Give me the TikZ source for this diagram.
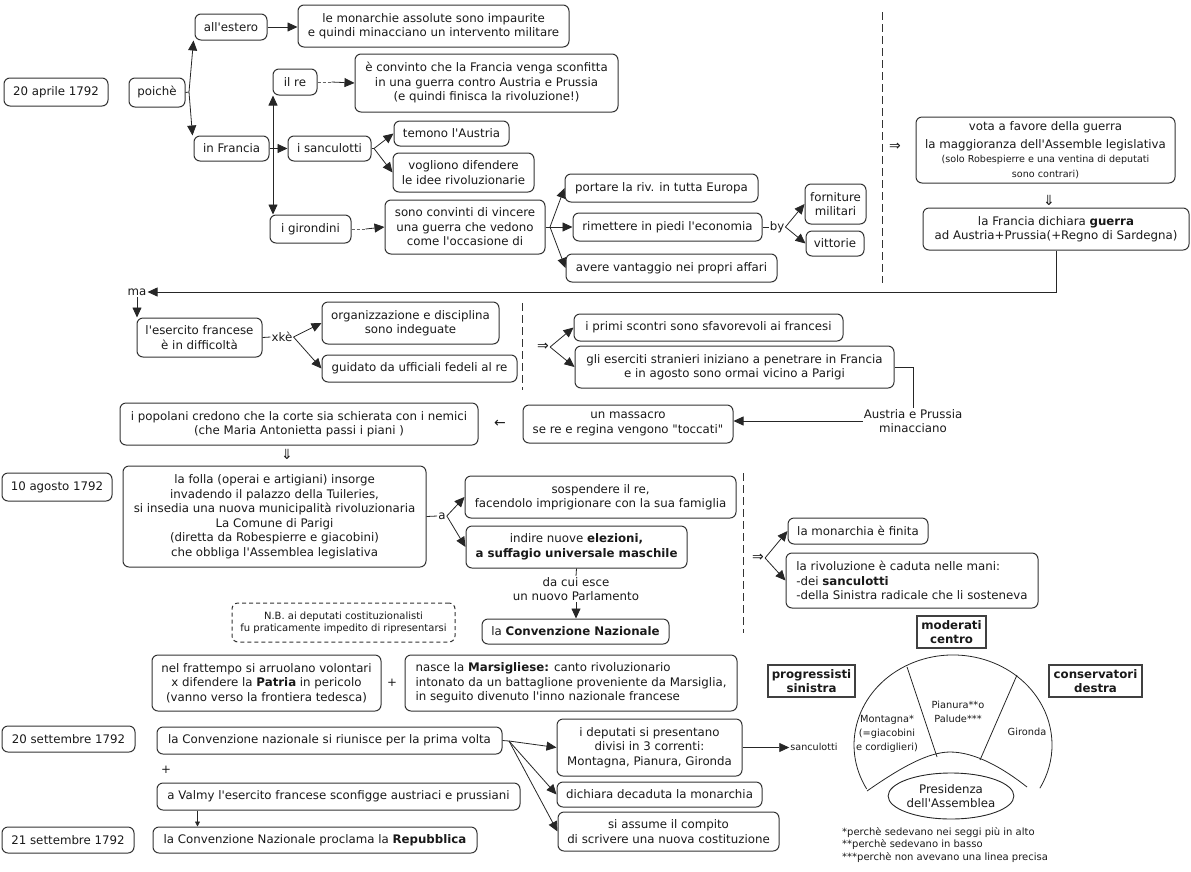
\documentclass[tikz,border=0pt]{standalone}
\usepackage{fontspec}
\setmainfont{DejaVu Sans}[Ligatures=TeXOff]
\usetikzlibrary{arrows.meta,shapes.geometric,calc}
\begin{document}
\begin{tikzpicture}[x=1pt,y=-1pt,
  every node/.style={font=\fontsize{11.8}{14.5}\selectfont, text=black!90},
  box/.style={draw=black!80, rounded corners=6pt, align=center, inner sep=2pt, line width=1pt},
  hdr/.style={draw=black!75, align=center, inner sep=2pt, line width=1.2pt, font=\fontsize{11.8}{14.5}\selectfont\bfseries},
  lbl/.style={inner sep=1pt, align=center},
  sym/.style={inner sep=1pt, font=\fontsize{14}{14}\selectfont},
  sm/.style={font=\fontsize{10}{12.5}\selectfont},
  arr/.style={draw=black!85, -{Triangle[length=10pt,width=9pt]}, line width=0.8pt},
  ln/.style={draw=black!85, line width=0.8pt},
  sep/.style={draw=black!80, line width=0.9pt, dash pattern=on 8pt off 4pt},
  stub/.style={draw=black!60, line width=0.7pt, dash pattern=on 3pt off 2pt},
]
\useasboundingbox (0,0) rectangle (1191,871);

% ---------- top block ----------
\node[box,minimum width=104pt,minimum height=28pt] (d1) at (56,92) {20 aprile 1792};
\node[box,minimum width=56pt,minimum height=29pt] (poiche) at (157,92.5) {poichè};
\node[box,minimum width=72pt,minimum height=26pt] (estero) at (231,27) {all'estero};
\node[box,minimum width=75pt,minimum height=25pt] (francia) at (231.5,148.5) {in Francia};
\node[box,minimum width=44pt,minimum height=26pt] (ilre) at (295,82) {il re};
\node[box,minimum width=83pt,minimum height=25pt] (sanc) at (329.5,148.5) {i sanculotti};
\node[box,minimum width=81pt,minimum height=28pt] (giron) at (310.5,229) {i girondini};
\node[box,minimum width=271pt,minimum height=42pt] (monar) at (433.5,26) {le monarchie assolute sono impaurite\\e quindi minacciano un intervento militare};
\node[box,minimum width=263pt,minimum height=58pt] (convinto) at (486.5,83) {è convinto che la Francia venga sconfitta\\in una guerra contro Austria e Prussia\\(e quindi finisca la rivoluzione!)};
\node[box,minimum width=115pt,minimum height=25pt] (temono) at (451.5,133.5) {temono l'Austria};
\node[box,minimum width=141pt,minimum height=39pt] (vogliono) at (463.5,172.5) {vogliono difendere\\le idee rivoluzionarie};
\node[box,minimum width=160pt,minimum height=54pt] (convinti) at (465,227) {sono convinti di vincere\\una guerra che vedono\\come l'occasione di};
\node[box,minimum width=193pt,minimum height=28pt] (portare) at (661.5,188) {portare la riv. in tutta Europa};
\node[box,minimum width=189pt,minimum height=28pt] (rimettere) at (667.5,227) {rimettere in piedi l'economia};
\node[box,minimum width=211pt,minimum height=28pt] (avere) at (671.5,268) {avere vantaggio nei propri affari};
\node[lbl] (by) at (777,227) {by};
\node[box,minimum width=61pt,minimum height=40pt] (fornit) at (835.5,204) {forniture\\militari};
\node[box,minimum width=58pt,minimum height=25pt] (vittorie) at (835,243.5) {vittorie};
\node[sym] (imp0) at (895,147) {⇒};
\node[box,minimum width=259pt,minimum height=66pt] (vota) at (1045.5,150) {vota a favore della guerra\\[3pt]la maggioranza dell'Assemble legislativa\\{\fontsize{9.6}{13}\selectfont (solo Robespierre e una ventina di deputati}\\{\fontsize{9.6}{13}\selectfont sono contrari)}};
\node[sym] (dn0) at (1049,200) {⇓};
\node[box,minimum width=266pt,minimum height=42pt] (guerra) at (1056,229) {la Francia dichiara \textbf{guerra}\\ad Austria+Prussia(+Regno di Sardegna)};

\coordinate (j1) at (189,92);
\draw[ln] (poiche.east) -- (j1);
\draw[arr] (j1) -- ([xshift=-1pt]estero.south west);
\draw[arr] (j1) -- ([xshift=-1pt]francia.north west);
\coordinate (j2) at (273,148.5);
\draw[ln] (francia.east) -- (j2);
\draw[arr] (j2) -- (sanc.west);
\draw[arr] (j2) -- (j2 |- ilre.south);
\draw[arr] (j2) -- (j2 |- giron.north);
\draw[arr] (estero.east) -- (estero.east -| monar.west);
\draw[stub] (ilre.east) -- ++(14,0);
\draw[arr] ([xshift=14pt]ilre.east) -- (convinto.west);
\coordinate (j3) at (374,148.5);
\draw[ln] (sanc.east) -- (j3);
\draw[arr] (j3) -- (temono.west);
\draw[arr] (j3) -- (vogliono.west);
\draw[stub] (giron.east) -- ++(14,0);
\draw[arr] ([xshift=14pt]giron.east) -- (convinti.west);
\coordinate (j4) at (550,227);
\draw[ln] (convinti.east) -- (j4);
\draw[arr] (j4) -- (portare.west);
\draw[arr] (j4) -- (rimettere.west);
\draw[arr] (j4) -- (avere.west);
\draw[ln] (rimettere.east) -- (by.west);
\draw[arr] (by.east) -- (fornit.west);
\draw[arr] (by.east) -- (vittorie.west);
\draw[sep] (882,12) -- (882,283);

% ---------- second block ----------
\node[lbl] (ma) at (137,292) {ma};
\draw[arr] (guerra.south) |- (ma.east);
\node[box,minimum width=125pt,minimum height=39pt] (eserc) at (199.5,337.5) {l'esercito francese\\è in difficoltà};
\draw[arr] (ma.south) -- (ma.south |- eserc.north);
\node[lbl] (xke) at (282,337) {xkè};
\node[box,minimum width=177pt,minimum height=42pt] (organ) at (410.5,323) {organizzazione e disciplina\\sono indeguate};
\node[box,minimum width=195pt,minimum height=27pt] (guidato) at (419.5,368.5) {guidato da ufficiali fedeli al re};
\draw[ln] (eserc.east) -- (xke.west);
\draw[arr] (xke.east) -- (organ.west);
\draw[arr] (xke.east) -- (guidato.west);
\draw[sep] (522,303) -- (522,390);
\node[sym] (imp1) at (543,347) {⇒};
\node[box,minimum width=269pt,minimum height=27pt] (primi) at (708.5,327.5) {i primi scontri sono sfavorevoli ai francesi};
\node[box,minimum width=319pt,minimum height=42pt] (eserciti) at (734.5,367) {gli eserciti stranieri iniziano a penetrare in Francia\\e in agosto sono ormai vicino a Parigi};
\draw[arr] (imp1.east) -- (primi.west);
\draw[arr] (imp1.east) -- (eserciti.west);
\node[lbl] (minac) at (913,421) {Austria e Prussia\\minacciano};
\draw[ln] (eserciti.east) -| (minac.north);
\node[box,minimum width=210pt,minimum height=38pt] (massacro) at (628,424) {un massacro\\se re e regina vengono "toccati"};
\draw[arr] (minac.west) -- (minac.west -| massacro.east);
\node[sym] (lar) at (500,424) {←};
\node[box,minimum width=358pt,minimum height=42pt] (popolani) at (299,424) {i popolani credono che la corte sia schierata con i nemici\\(che Maria Antonietta passi i piani )};
\node[sym] (dn1) at (287,454) {⇓};

% ---------- 10 agosto ----------
\node[box,minimum width=110pt,minimum height=28pt] (d2) at (57,487) {10 agosto 1792};
\node[box,minimum width=303pt,minimum height=101pt] (folla) at (274.5,516.5) {la folla (operai e artigiani) insorge\\invadendo il palazzo della Tuileries,\\si insedia una nuova municipalità rivoluzionaria\\La Comune di Parigi\\(diretta da Robespierre e giacobini)\\che obbliga l'Assemblea legislativa};
\node[lbl] (a) at (442,516) {a};
\node[box,minimum width=271pt,minimum height=42pt] (sosp) at (600.5,497) {sospendere il re,\\facendolo imprigionare con la sua famiglia};
\node[box,minimum width=221pt,minimum height=42pt] (indire) at (576.5,547) {indire nuove \textbf{elezioni,}\\\textbf{a suffagio universale maschile}};
\draw[ln] (folla.east) -- (a.west);
\draw[arr] (a.east) -- (sosp.west);
\draw[arr] (a.east) -- (indire.west);
\node[lbl] (dacui) at (576,589) {da cui esce\\un nuovo Parlamento};
\node[box,minimum width=187pt,minimum height=25pt] (conv) at (575.5,631.5) {la \textbf{Convenzione Nazionale}};
\draw[ln] (indire.south) -- (dacui.north);
\draw[arr] (dacui.south) -- (dacui.south |- conv.north);
\node[box,dash pattern=on 4pt off 3pt,minimum width=223pt,minimum height=39pt,font=\fontsize{10}{12}\selectfont] (nb) at (343.5,622.5) {N.B. ai deputati costituzionalisti\\fu praticamente impedito di ripresentarsi};
\draw[sep] (743,473) -- (743,633);
\node[sym] (imp2) at (758,558) {⇒};
\node[box,minimum width=140pt,minimum height=26pt] (monfin) at (858,531) {la monarchia è finita};
\node[box,align=left,minimum width=252pt,minimum height=55pt] (rivol) at (912,580.5) {la rivoluzione è caduta nelle mani:\\-dei \textbf{sanculotti}\\-della Sinistra radicale che li sosteneva};
\draw[arr] (imp2.east) -- (monfin.west);
\draw[arr] (imp2.east) -- (rivol.west);

% ---------- bottom ----------
\node[box,minimum width=229pt,minimum height=56pt] (fratt) at (266.5,683) {nel frattempo si arruolano volontari\\x difendere la \textbf{Patria} in pericolo\\(vanno verso la frontiera tedesca)};
\node[lbl] (plus1) at (392,683) {+};
\node[box,align=left,minimum width=332pt,minimum height=56pt] (marsig) at (571,683) {nasce la \textbf{Marsigliese:} canto rivoluzionario\\intonato da un battaglione proveniente da Marsiglia,\\in seguito divenuto l'inno nazionale francese};
\node[box,minimum width=133pt,minimum height=26pt] (d3) at (68.5,739) {20 settembre 1792};
\node[box,minimum width=345pt,minimum height=27pt] (riun) at (329.5,740.5) {la Convenzione nazionale si riunisce per la prima volta};
\node[lbl] (plus2) at (166,770) {+};
\node[box,minimum width=363pt,minimum height=27pt] (valmy) at (338.5,796.5) {a Valmy l'esercito francese sconfigge austriaci e prussiani};
\node[box,minimum width=132pt,minimum height=26pt] (d4) at (68,840) {21 settembre 1792};
\node[box,minimum width=324pt,minimum height=26pt] (repub) at (315,840) {la Convenzione Nazionale proclama la \textbf{Repubblica}};
\draw[-{Triangle[length=5pt,width=5pt]}, ln] ([xshift=41pt]valmy.south west) -- ([xshift=45pt]repub.north west);
\node[box,minimum width=185pt,minimum height=57pt] (deput) at (649.5,747.5) {i deputati si presentano\\divisi in 3 correnti:\\Montagna, Pianura, Gironda};
\node[box,minimum width=205pt,minimum height=25pt] (dichiara) at (659.5,794.5) {dichiara decaduta la monarchia};
\node[box,minimum width=221pt,minimum height=39pt] (assume) at (668.5,831.5) {si assume il compito\\di scrivere una nuova costituzione};
\coordinate (j5) at (509,741);
\draw[ln] (riun.east) -- (j5);
\draw[arr] (j5) -- (deput.west);
\draw[arr] (j5) -- (dichiara.west);
\draw[arr] (j5) -- (assume.west);
\node[lbl,font=\fontsize{9.6}{12}\selectfont] (sanc2) at (814,747) {sanculotti};
\draw[arr] (deput.east) -- (deput.east -| sanc2.west);

% ---------- assembly diagram ----------
\node[hdr,minimum width=69pt,minimum height=32pt] (moder) at (951.5,632) {moderati\\centro};
\node[hdr,minimum width=87pt,minimum height=32pt] (progr) at (811.5,681) {progressisti\\sinistra};
\node[hdr,minimum width=93pt,minimum height=32pt] (conse) at (1095.5,681) {conservatori\\destra};
\draw[ln] (866.7,789) arc[start angle=150.7, end angle=388.7, x radius=99, y radius=90];
\draw[ln] (867,791) .. controls (900,768) and (928,752) .. (950,752) .. controls (975,752) and (1003,768) .. (1027,787);
\draw[ln] (907,667) -- (937,757);
\draw[ln] (1017,675) -- (980,760);
\node[lbl,font=\fontsize{9.8}{14}\selectfont] (montagna) at (887,734) {Montagna*\\(=giacobini\\e cordiglieri)};
\node[lbl,font=\fontsize{9.8}{14}\selectfont] (pianura) at (958,712) {Pianura**o\\Palude***};
\node[lbl,font=\fontsize{9.8}{14}\selectfont] (gironda) at (1027,732) {Gironda};
\node[draw=black!85,line width=0.9pt,ellipse,minimum width=108pt,minimum height=46pt,inner sep=0pt,align=center] (presid) at (951,796) {Presidenza\\dell'Assemblea};
\node[lbl,sm,align=left,anchor=west] (fn) at (841,845) {*perchè sedevano nei seggi più in alto\\**perchè sedevano in basso\\***perchè non avevano una linea precisa};
\end{tikzpicture}
\end{document}
